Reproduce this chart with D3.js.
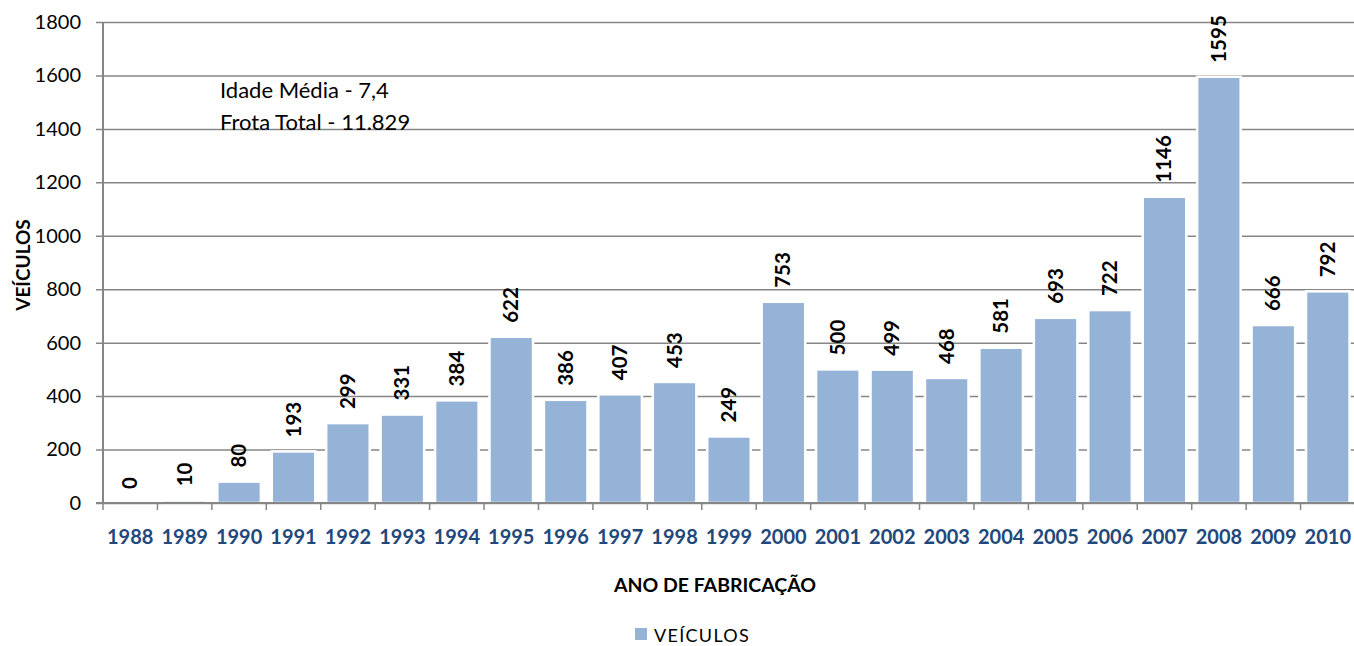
<!DOCTYPE html>
<html>
<head>
<meta charset="utf-8">
<script src="https://cdn.jsdelivr.net/npm/d3@7"></script>
<style>
  html, body { margin: 0; padding: 0; background: #fff; }
  svg { display: block; font-family: Lato, "Open Sans", sans-serif; }
</style>
</head>
<body>
<svg id="chart" width="1354" height="646"></svg>
<script>
// Frota por ano de fabricação
const years = ["1988","1989","1990","1991","1992","1993","1994","1995","1996","1997","1998","1999",
               "2000","2001","2002","2003","2004","2005","2006","2007","2008","2009","2010"];
const vehicles = [0,10,80,193,299,331,384,622,386,407,453,249,753,500,499,468,581,693,722,1146,1595,666,792];
const yTicks = [0,200,400,600,800,1000,1200,1400,1600,1800];
const noteLines = ["Idade Média - 7,4", "Frota Total - 11.829"];
const seriesName = "VEÍCULOS";

const svg = d3.select("#chart");
const plotLeft = 103, plotRight = 1355, plotTop = 22, plotBottom = 503;

const x = d3.scaleBand().domain(years).range([plotLeft, plotRight]).paddingInner(0.2).paddingOuter(0.1);
const y = d3.scaleLinear().domain([0, 1800]).range([plotBottom, plotTop]);

const gridColor = "#868686";
const barColor = "#95B3D7";

// horizontal gridlines with short outer ticks
const yAxis = svg.append("g")
  .attr("transform", `translate(${plotLeft},0)`)
  .call(d3.axisLeft(y).tickValues(yTicks).tickFormat(d3.format("d"))
    .tickSize(-(plotRight - plotLeft)).tickSizeOuter(0).tickPadding(22));
yAxis.select(".domain").remove();
yAxis.selectAll(".tick line").attr("stroke", gridColor).attr("stroke-width", 1.5).attr("x1", -7);
yAxis.selectAll(".tick text")
  .attr("font-family", "Lato, sans-serif").attr("font-size", 20).attr("fill", "#000");

// bars
svg.append("g").selectAll("rect")
  .data(vehicles)
  .join("rect")
  .attr("x", (d, i) => x(years[i]))
  .attr("width", x.bandwidth())
  .attr("y", d => y(d))
  .attr("height", d => y(0) - y(d))
  .attr("fill", barColor)
  .attr("stroke", "#fff")
  .attr("stroke-width", 2.5);

// value labels, rotated
svg.append("g").selectAll("text")
  .data(vehicles)
  .join("text")
  .attr("transform", (d, i) => `translate(${x(years[i]) + x.bandwidth() / 2 + 7},${y(d) - 14}) rotate(-90)`)
  .attr("font-family", "Lato, sans-serif")
  .attr("font-weight", "bold")
  .attr("font-size", 20.5)
  .attr("fill", "#000")
  .text(d => d);

// y axis line
svg.append("line")
  .attr("x1", plotLeft).attr("x2", plotLeft).attr("y1", plotTop).attr("y2", plotBottom)
  .attr("stroke", gridColor).attr("stroke-width", 2);

// x axis with category boundary ticks
const xAxisG = svg.append("g");
xAxisG.append("line")
  .attr("x1", plotLeft - 7).attr("x2", plotRight).attr("y1", plotBottom).attr("y2", plotBottom)
  .attr("stroke", gridColor).attr("stroke-width", 2);
const bounds = d3.range(years.length).map(i => plotLeft + i * x.step());
xAxisG.selectAll("line.tk")
  .data(bounds)
  .join("line")
  .attr("class", "tk")
  .attr("x1", d => d).attr("x2", d => d)
  .attr("y1", plotBottom).attr("y2", plotBottom + 7)
  .attr("stroke", gridColor).attr("stroke-width", 1.5);
xAxisG.selectAll("text")
  .data(years)
  .join("text")
  .attr("x", d => x(d) + x.bandwidth() / 2)
  .attr("y", 544)
  .attr("text-anchor", "middle")
  .attr("font-family", "Lato, sans-serif")
  .attr("font-weight", "bold")
  .attr("font-size", 20)
  .attr("fill", "#1F497D")
  .text(d => d);

// axis titles
svg.append("text")
  .attr("x", 715).attr("y", 592)
  .attr("text-anchor", "middle")
  .attr("font-weight", "bold").attr("font-size", 19.5).attr("fill", "#000")
  .text("ANO DE FABRICAÇÃO");
svg.append("text")
  .attr("transform", "translate(30,265) rotate(-90)")
  .attr("text-anchor", "middle")
  .attr("font-weight", "bold").attr("font-size", 19).attr("fill", "#000")
  .text("VEÍCULOS");

// annotation
svg.append("g").selectAll("text")
  .data(noteLines)
  .join("text")
  .attr("x", 220)
  .attr("y", (d, i) => 98 + i * 32)
  .attr("font-size", 22)
  .attr("fill", "#000")
  .text(d => d);

// legend
svg.append("rect").attr("x", 635).attr("y", 628).attr("width", 12).attr("height", 12).attr("fill", barColor);
svg.append("text")
  .attr("x", 654).attr("y", 642)
  .attr("font-size", 18).attr("letter-spacing", 1.3).attr("fill", "#000")
  .text(seriesName);
</script>
</body>
</html>
